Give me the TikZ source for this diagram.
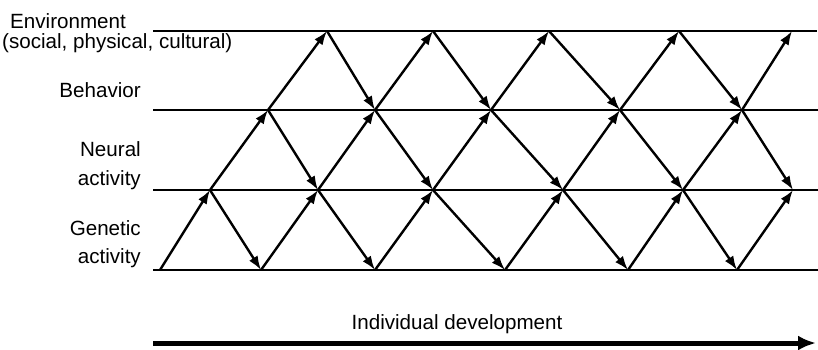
\documentclass[tikz,border=0pt]{standalone}
\usepackage{fontspec}
\setmainfont{Liberation Sans}
\usetikzlibrary{arrows.meta}
\begin{document}
\begin{tikzpicture}[x=1pt,y=-1pt,
  lvl/.style={line width=2.4pt},
  arr/.style={line width=2.4pt,-{Latex[length=14pt,width=10pt]}},
  devarr/.style={line width=5pt,-{Latex[length=18pt,width=15pt]}},
  lbl/.style={inner sep=0pt,font=\fontsize{20.6}{24}\selectfont}]
\useasboundingbox (0,0) rectangle (818,349);
% level lines
\coordinate (EL) at (153,31);  \coordinate (ER) at (817,31);
\coordinate (BL) at (153,110); \coordinate (BR) at (818,110);
\coordinate (NL) at (153,190); \coordinate (NR) at (818,190);
\coordinate (GL) at (153,270); \coordinate (GR) at (818,270);
\draw[lvl] (EL) -- (ER);
\draw[lvl] (BL) -- (BR);
\draw[lvl] (NL) -- (NR);
\draw[lvl] (GL) -- (GR);
% vertices
\coordinate (e1) at (327,31); \coordinate (e2) at (433,31); \coordinate (e3) at (549,31);
\coordinate (e4) at (679,31); \coordinate (e5) at (792,31);
\coordinate (b1) at (268,110); \coordinate (b2) at (375,110); \coordinate (b3) at (491,110);
\coordinate (b4) at (620,110); \coordinate (b5) at (742,110);
\coordinate (n1) at (210,190); \coordinate (n2) at (318,190); \coordinate (n3) at (433,190);
\coordinate (n4) at (563,190); \coordinate (n5) at (683,190); \coordinate (n6) at (793,190);
\coordinate (g0) at (160,270); \coordinate (g1) at (261,270); \coordinate (g2) at (375,270);
\coordinate (g3) at (505,270); \coordinate (g4) at (628,270); \coordinate (g5) at (737,270);
% arrows
\draw[arr] (g0) -- (n1);
\draw[arr] (n1) -- (b1);
\draw[arr] (b1) -- (e1);
\draw[arr] (n1) -- (g1);
\draw[arr] (g1) -- (n2);
\draw[arr] (n2) -- (b2);
\draw[arr] (b1) -- (n2);
\draw[arr] (e1) -- (b2);
\draw[arr] (b2) -- (e2);
\draw[arr] (e2) -- (b3);
\draw[arr] (b3) -- (e3);
\draw[arr] (e3) -- (b4);
\draw[arr] (b4) -- (e4);
\draw[arr] (e4) -- (b5);
\draw[arr] (b5) -- (e5);
\draw[arr] (b2) -- (n3);
\draw[arr] (n3) -- (b3);
\draw[arr] (b3) -- (n4);
\draw[arr] (n4) -- (b4);
\draw[arr] (b4) -- (n5);
\draw[arr] (n5) -- (b5);
\draw[arr] (b5) -- (n6);
\draw[arr] (n2) -- (g2);
\draw[arr] (g2) -- (n3);
\draw[arr] (n3) -- (g3);
\draw[arr] (g3) -- (n4);
\draw[arr] (n4) -- (g4);
\draw[arr] (g4) -- (n5);
\draw[arr] (n5) -- (g5);
\draw[arr] (g5) -- (n6);
% labels
\node[lbl,anchor=base west] (tenv) at (10,28.5) {Environment};
\node[lbl,anchor=base west] (tenv2) at (2,48) {(social, physical, cultural)};
\node[lbl,anchor=base east] (tbeh) at (141,97) {Behavior};
\node[lbl,anchor=base east] (tneu) at (141,156) {Neural};
\node[lbl,anchor=base east] (tneu2) at (141,185) {activity};
\node[lbl,anchor=base east] (tgen) at (141,235) {Genetic};
\node[lbl,anchor=base east] (tgen2) at (141,263) {activity};
% development
\coordinate (DL) at (153,343); \coordinate (DR) at (816,343);
\draw[devarr] (DL) -- (DR);
\node[lbl,anchor=base] (tdev) at (457,329) {Individual development};
\end{tikzpicture}
\end{document}
